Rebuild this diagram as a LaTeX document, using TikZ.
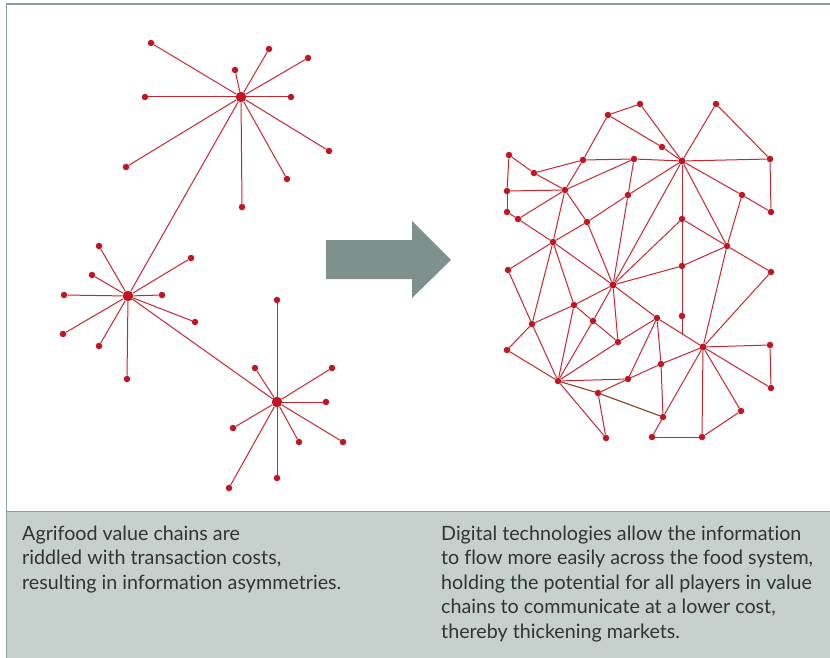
\documentclass[tikz,border=0pt]{standalone}
\usepackage{fontspec}
\setmainfont[Ligatures=NoCommon]{Lato}
\definecolor{nred}{HTML}{BE1622}
\definecolor{ered}{HTML}{C8262F}
\definecolor{edark}{HTML}{8A3A22}
\definecolor{arrowgray}{HTML}{7F918C}
\definecolor{capbg}{HTML}{C6D1CE}
\definecolor{frame}{HTML}{8C9E99}
\definecolor{captext}{HTML}{333333}
\tikzset{
  dot/.style={circle,fill=nred,draw=none,inner sep=0pt,minimum size=6.5pt},
  hubdot/.style={circle,fill=nred,draw=none,inner sep=0pt,minimum size=10.5pt},
  mhub/.style={circle,fill=nred,draw=none,inner sep=0pt,minimum size=7pt},
  edge/.style={draw=ered,line width=1pt},
  dedge/.style={draw=edark,line width=1.1pt},
  captionbox/.style={anchor=base west,inner sep=0pt,text=captext,font=\fontsize{19.7}{24.6}\selectfont}
}
\begin{document}
\begin{tikzpicture}[x=1pt,y=-1pt]
\useasboundingbox (0,0) rectangle (830,658);
% frame and caption area
\fill[capbg] (6.5,511.5) rectangle (830,658);
\draw[frame,line width=2pt] (5.5,4) -- (830,4);
\draw[frame,line width=1.5pt] (6.5,3) -- (6.5,658);
\draw[frame,line width=1.5pt] (6.5,511.5) -- (830,511.5);

% ---------- left: three stars ----------
\node[hubdot] (A) at (241,97) {};
\foreach \n/\x/\y in {a1/151/43,a2/269/49,a3/308/58,a4/235/70,a5/145/97,a6/291/97,a7/329/151,a8/126/167,a9/287/179,a10/242/207}
  {\node[dot] (\n) at (\x,\y) {};}
\foreach \n in {a1,a2,a3,a4,a5,a6,a7,a8,a9,a10} {\draw[edge] (A) -- (\n);}

\node[hubdot] (B) at (128,296) {};
\foreach \n/\x/\y in {b1/99/246,b2/191/258,b3/92/275,b4/64/295,b5/162/295,b6/195/322,b7/63/334,b8/99/346,b9/127/379}
  {\node[dot] (\n) at (\x,\y) {};}
\foreach \n in {b1,b2,b3,b4,b5,b6,b7,b8,b9} {\draw[edge] (B) -- (\n);}

\node[hubdot] (C) at (277,402) {};
\foreach \n/\x/\y in {c1/277/300,c2/255/368,c3/332/368,c4/326/402,c5/233/428,c6/299/442,c7/343/442,c8/277/478,c9/229/488}
  {\node[dot] (\n) at (\x,\y) {};}
\foreach \n in {c1,c2,c3,c4,c5,c6,c7,c8,c9} {\draw[edge] (C) -- (\n);}

\draw[edge] (A) -- (B);
\draw[edge] (B) -- (C);

% ---------- arrow ----------
\fill[arrowgray] (326,240) -- (412,240) -- (412,221) -- (451,260) -- (412,298) -- (412,279) -- (326,279) -- cycle;

% ---------- right: mesh network ----------
\foreach \n/\x/\y in {p1/640/104,p2/608/115,p3/716/104,p4/509/155,p5/583/160,p6/634/159,p7/662/147,
  p8/770/159,p9/534/173,p10/565/190,p11/507/191,p12/628/195,p13/742/195,p14/507/212,p15/518/219,
  p16/682/219,p17/771/212,p18/587/222,p19/553/242,p20/727/246,p21/682/266,p22/508/270,p23/771/272,
  p25/574/305,p26/593/321,p27/532/324,p28/657/318,p29/682/316,p30/618/342,p32/770/345,
  p33/507/350,p34/661/364,p35/628/379,p36/558/381,p37/771/388,p38/598/393,p39/741/411,p40/663/417,
  p41/606/438,p42/652/437,p43/702/437}
  {\node[dot] (\n) at (\x,\y) {};}
\node[mhub] (H) at (682,161) {};
\node[mhub] (p24) at (613,285) {};
\node[mhub] (p31) at (703,347) {};
\coordinate (q) at (682,333.5);

\foreach \u/\v in {p1/H,p2/p1,p2/p7,p7/H,p2/p5,p5/p6,p6/H,p3/H,p3/p8,H/p8,p8/p17,H/p13,p13/p17,p13/p20,
  H/p16,p16/p21,p21/p29,H/p20,H/p24,p12/H,p4/p9,p4/p11,p9/p5,p9/p10,p11/p10,p11/p14,p14/p15,
  p15/p10,p15/p19,p10/p19,p10/p5,p10/p6,p10/p18,p18/p12,p18/p24,p12/p6,p12/p24,p19/p18,p16/p24,
  p19/p22,p19/p27,p19/p24,p19/p25,p22/p27,p24/p25,p24/p26,p24/p30,p24/p21,p24/p28,p25/p27,p25/p26,
  p25/p36,p26/p30,p26/p36,p27/p33,p27/p36,p33/p36,p36/p35,p36/p30,p36/p41,p38/p35,p38/p41,
  p35/p34,p35/p28,p28/p30,p28/p31,p28/p34,p34/p40,p34/p31,p20/p16,p20/p21,p20/p23,p20/p31,
  p23/p31,p31/p32,p32/p37,p31/p37,p31/p39,p31/p43,p31/p40,p40/p42,p42/p43,p43/p39}
  {\draw[edge] (\u) -- (\v);}
\draw[edge] (p29) -- (q);
\draw[dedge] (p36) -- (p38);
\draw[dedge] (p38) -- (p40);

% ---------- captions ----------
\node[captionbox] (capL) at (22,540) {\parbox[t]{390pt}{\raggedright
Agrifood value chains are\\
riddled with transaction costs,\\
resulting in information asymmetries.}};
\node[captionbox] (capR) at (441,540) {\parbox[t]{388pt}{\raggedright
Digital technologies allow the information\\
to flow more easily across the food system,\\
holding the potential for all players in value\\
chains to communicate at a lower cost,\\
thereby thickening markets.}};
\end{tikzpicture}
\end{document}
